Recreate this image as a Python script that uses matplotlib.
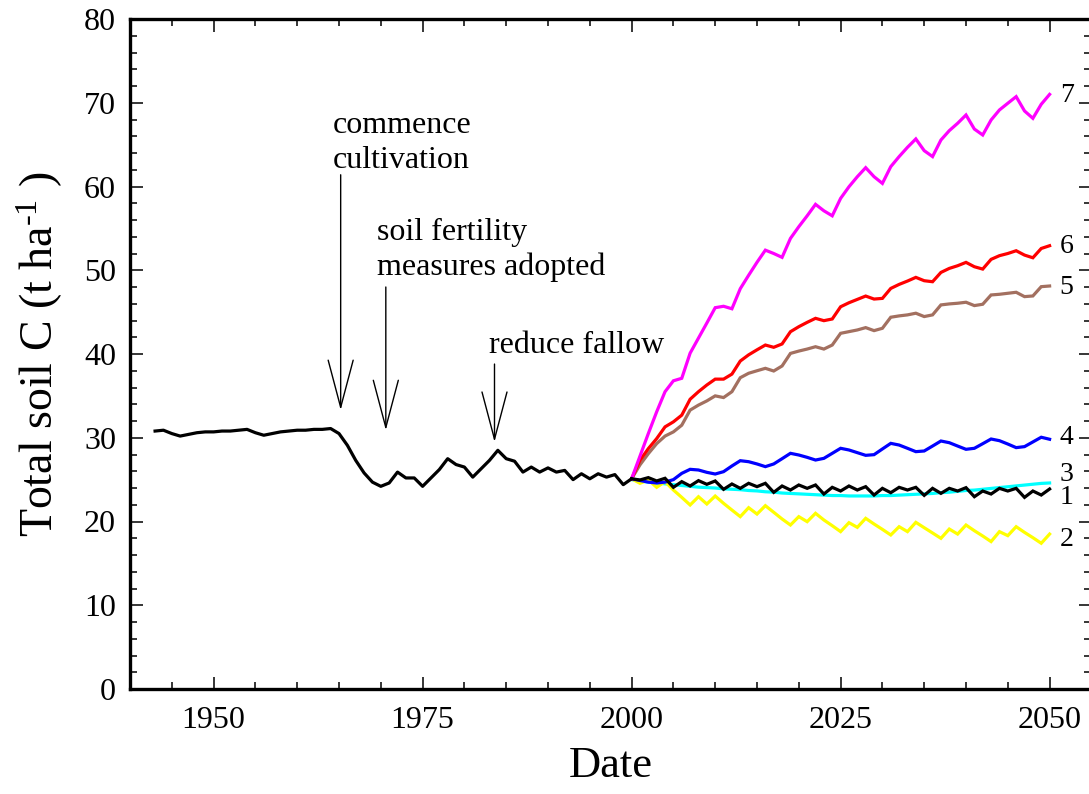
import numpy as np
import matplotlib
matplotlib.use("Agg")
import matplotlib.pyplot as plt
from matplotlib.ticker import MultipleLocator, FixedLocator

plt.rcParams['font.family'] = ['Liberation Serif', 'DejaVu Serif']
plt.rcParams['mathtext.fontset'] = 'custom'
plt.rcParams['mathtext.rm'] = 'Liberation Serif'
plt.rcParams['mathtext.it'] = 'Liberation Serif:italic'

# Simulated total soil carbon (t/ha): history 1943-2000
hist_years = list(range(1943, 2001))
hist_c = [30.8, 30.9, 30.5, 30.2, 30.4, 30.6, 30.7, 30.7, 30.8, 30.8,
          30.9, 31.0, 30.6, 30.3, 30.5, 30.7, 30.8, 30.9, 30.9, 31.0,
          31.0, 31.1, 30.5, 29.1, 27.3, 25.8, 24.7, 24.2, 24.6, 25.9,
          25.2, 25.2, 24.2, 25.2, 26.2, 27.5, 26.8, 26.5, 25.3, 26.3,
          27.3, 28.5, 27.5, 27.2, 25.9, 26.5, 25.9, 26.4, 25.9, 26.1,
          25.0, 25.7, 25.1, 25.7, 25.3, 25.6, 24.4, 25.1]

# Management scenarios 2000-2050
scen_years = list(range(2000, 2051))
scen_1 = [25.1, 24.96, 25.24, 24.84, 25.16, 24.08, 24.76, 24.24, 24.88, 24.44,
          24.84, 23.84, 24.48, 23.96, 24.56, 24.16, 24.56, 23.48, 24.24, 23.76,
          24.36, 23.96, 24.36, 23.28, 24.08, 23.64, 24.24, 23.76, 24.16, 23.16,
          23.96, 23.44, 24.08, 23.76, 24.08, 23.12, 23.96, 23.36, 23.96, 23.64,
          24.04, 22.96, 23.64, 23.28, 23.96, 23.64, 23.96, 22.88, 23.64, 23.16,
          23.88]
scen_2 = [25.1, 24.56, 24.96, 24.08, 24.76, 23.76, 22.88, 21.97, 22.96, 22.09,
          23.04, 22.17, 21.37, 20.58, 21.65, 20.89, 21.89, 21.10, 20.30, 19.58,
          20.58, 19.98, 20.98, 20.18, 19.50, 18.79, 19.86, 19.30, 20.38, 19.70,
          19.06, 18.39, 19.38, 18.79, 19.90, 19.26, 18.63, 17.99, 19.10, 18.50,
          19.58, 18.90, 18.27, 17.60, 18.79, 18.31, 19.38, 18.70, 18.07, 17.40,
          18.50]
scen_3 = [25.0, 24.85, 24.7, 24.6, 24.5, 24.4, 24.3, 24.2, 24.1, 24.05,
          24.0, 23.9, 23.85, 23.8, 23.7, 23.65, 23.55, 23.5, 23.4, 23.35,
          23.3, 23.25, 23.2, 23.15, 23.1, 23.1, 23.05, 23.05, 23.05, 23.05,
          23.1, 23.1, 23.15, 23.2, 23.25, 23.3, 23.35, 23.45, 23.5, 23.6,
          23.7, 23.75, 23.85, 23.95, 24.05, 24.15, 24.25, 24.35, 24.45, 24.55,
          24.6]
scen_4 = [25.1, 24.9, 24.7, 24.6, 24.7, 25.0, 25.75, 26.23, 26.15, 25.87,
          25.67, 25.95, 26.63, 27.26, 27.14, 26.87, 26.55, 26.87, 27.5, 28.14,
          27.94, 27.66, 27.34, 27.54, 28.14, 28.74, 28.54, 28.22, 27.9, 27.98,
          28.66, 29.33, 29.13, 28.74, 28.34, 28.42, 29.01, 29.61, 29.41, 29.01,
          28.62, 28.74, 29.29, 29.85, 29.65, 29.25, 28.82, 28.94, 29.5, 30.06,
          29.82]
scen_5 = [25.1, 26.76, 28.1, 29.3, 30.2, 30.7, 31.5, 33.3, 33.9, 34.4,
          35.0, 34.8, 35.5, 37.17, 37.7, 38.0, 38.29, 37.97, 38.57, 40.07,
          40.35, 40.59, 40.87, 40.59, 41.07, 42.47, 42.67, 42.87, 43.15, 42.79,
          43.07, 44.39, 44.55, 44.67, 44.87, 44.47, 44.67, 45.86, 45.98, 46.06,
          46.18, 45.78, 45.94, 47.05, 47.13, 47.25, 47.37, 46.85, 46.93, 48.04,
          48.12]
scen_6 = [25.1, 27.3, 28.7, 29.9, 31.3, 31.9, 32.7, 34.6, 35.5, 36.3,
          37.0, 37.0, 37.6, 39.16, 39.9, 40.5, 41.07, 40.8, 41.2, 42.66,
          43.26, 43.78, 44.26, 43.98, 44.18, 45.64, 46.12, 46.52, 46.92, 46.56,
          46.64, 47.83, 48.31, 48.71, 49.15, 48.75, 48.63, 49.74, 50.22, 50.54,
          50.94, 50.42, 50.14, 51.3, 51.74, 52.0, 52.33, 51.81, 51.49, 52.6,
          52.93]
scen_7 = [25.1, 27.8, 30.5, 33.1, 35.5, 36.8, 37.1, 40.1, 41.9, 43.7,
          45.53, 45.7, 45.4, 47.8, 49.4, 50.95, 52.4, 52.0, 51.54, 53.8,
          55.2, 56.5, 57.87, 57.1, 56.5, 58.58, 59.97, 61.17, 62.25, 61.17,
          60.37, 62.37, 63.57, 64.68, 65.68, 64.28, 63.57, 65.55, 66.67, 67.55,
          68.54, 66.86, 66.15, 67.94, 69.14, 69.94, 70.73, 69.02, 68.14, 69.82,
          71.0]

scenario_names = ["1", "2", "3", "4", "5", "6", "7"]
scenario_colors = ["black", "#ffff00", "#00ffff", "#0000ff", "#a37060", "#ff0000", "#ff00ff"]
scenario_data = [scen_1, scen_2, scen_3, scen_4, scen_5, scen_6, scen_7]
# end-of-line label heights
label_y = [22.9, 17.8, 25.6, 30.0, 48.0, 52.8, 70.9]

W, H = 1089, 794
fig = plt.figure(figsize=(W / 100, H / 100), dpi=100)
ax = fig.add_axes([130 / W, 105 / H, (1091.4 - 130) / W, 670 / H])

lw = 2.3
draw_order = [2, 1, 3, 0, 4, 5, 6]
for i in draw_order:
    ax.plot(scen_years, scenario_data[i], color=scenario_colors[i], lw=lw,
            solid_joinstyle='miter', zorder=3 + (1 if i == 0 else 0))
ax.plot(hist_years, hist_c, color='black', lw=lw, zorder=5)

for name, y in zip(scenario_names, label_y):
    ax.text(2051.2, y, name, fontsize=20, ha='left', va='center')

# event annotations: label lines and open arrows
txt_kw = dict(fontsize=23, ha='left', va='baseline')
ax.text(1964.2, 66.4, "commence", **txt_kw)
ax.text(1964.2, 62.2, "cultivation", **txt_kw)
ax.text(1969.6, 53.6, "soil fertility", **txt_kw)
ax.text(1969.6, 49.4, "measures adopted", **txt_kw)
ax.text(1982.9, 40.1, "reduce fallow", **txt_kw)

event_years = [1965.2, 1970.6, 1983.6]
arrow_tails = [61.4, 48.0, 38.8]
arrow_tips = [33.3, 30.9, 29.5]
for x, y0, y1 in zip(event_years, arrow_tails, arrow_tips):
    ax.annotate('', xy=(x, y1), xytext=(x, y0),
                arrowprops=dict(arrowstyle='->,head_length=1.7,head_width=0.45',
                                lw=1.0, color='black', mutation_scale=20,
                                shrinkA=0, shrinkB=0))

ax.set_xlim(1940, 2055)
ax.set_ylim(0, 80)
ax.xaxis.set_major_locator(FixedLocator([1950, 1975, 2000, 2025, 2050]))
ax.xaxis.set_minor_locator(MultipleLocator(5))
ax.yaxis.set_major_locator(MultipleLocator(10))
ax.yaxis.set_minor_locator(MultipleLocator(2))

ax.tick_params(which='both', direction='in', top=True, right=True,
               labelsize=23, width=1.1)
ax.tick_params(which='major', length=9)
ax.tick_params(which='minor', length=5)
ax.tick_params(axis='x', which='major', pad=12)
ax.tick_params(axis='y', which='major', pad=10)
for s in ax.spines.values():
    s.set_linewidth(2.4)

ax.set_xlabel("Date", fontsize=32, labelpad=8)
ax.set_ylabel(r"Total soil C (t ha$^{\text{-1}}$ )", fontsize=33, labelpad=14)

fig.savefig("out.png", dpi=100)
